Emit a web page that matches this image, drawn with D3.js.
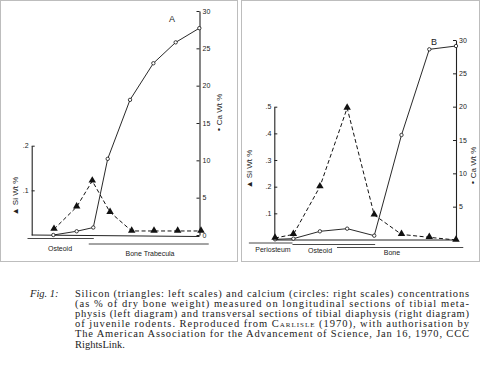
<!DOCTYPE html>
<html>
<head>
<meta charset="utf-8">
<script src="https://cdn.jsdelivr.net/npm/d3@7"></script>
<style>
  html, body { margin: 0; padding: 0; background: #fff; }
  svg { display: block; }
  .ax text { font-family: "Liberation Sans", Arial, sans-serif; font-size: 7px; fill: #222; }
  .ax path, .ax line { stroke: #222; }
</style>
</head>
<body>
<svg id="c" width="480" height="368"></svg>
<script>
// ---- Data ----
// Panel A: longitudinal sections of tibial metaphysis (position along section, 0-100 between axes)
const posA_ca = [12.9, 26.8, 36.7, 45.3, 58.6, 72.5, 85.8, 99.9];
const caA     = [0, 0.5, 1.0, 10.2, 18.1, 23.0, 25.8, 27.7];
const posA_si = [13.3, 26.8, 36.1, 46.7, 59.6, 72.9, 87.0, 100.9];
const siA     = [0.013, 0.063, 0.121, 0.051, 0.009, 0.009, 0.009, 0.009];
// Panel B: transversal sections of tibial diaphysis
const posB_ca = [0.4, 10.5, 25.1, 40.1, 55.0, 70.0, 85.3, 100];
const caB     = [0.1, 0.2, 1.3, 1.7, 0.65, 15.75, 28.6, 29.1];
const posB_si = [0.4, 10.5, 25.1, 40.1, 55.0, 70.0, 85.3, 100];
const siB     = [0.0075, 0.021, 0.2, 0.495, 0.094, 0.021, 0.01, 0.0];
// Tick values / labels
const siTicksA = [0.1, 0.2];
const siLabelsA = [".1", ".2"];
const caTicksA = [0, 5, 10, 15, 20, 25, 30];
const siTicksB = [0.1, 0.2, 0.3, 0.4, 0.5];
const siLabelsB = [".1", ".2", ".3", ".4", ".5"];
const caTicksB = [5, 10, 15, 20, 25, 30];
// Region labels
const regionsA = [{name: "Osteoid", from: -2.5, to: 37}, {name: "Bone Trabecula", from: 34, to: 105.5}];
const regionsB = [{name: "Periosteum", from: -14, to: 10}, {name: "Osteoid", from: 10, to: 55.5}, {name: "Bone", from: 34.5, to: 104}];
const captionLines = [
  "Silicon (triangles: left scales) and calcium (circles: right scales) concentrations",
  "(as % of dry bone weight) measured on longitudinal sections of tibial meta-",
  "physis (left diagram) and transversal sections of tibial diaphysis (right diagram)",
  "of juvenile rodents. Reproduced from |CARLISLE| (1970), with authorisation by",
  "The American Association for the Advancement of Science, Jan 16, 1970, CCC",
  "RightsLink."
];

const svg = d3.select("#c");
const sans = '"Liberation Sans", Arial, sans-serif';

// Panel frames
svg.append("rect").attr("x", 0.5).attr("y", 0.5).attr("width", 237).attr("height", 261)
  .attr("fill", "none").attr("stroke", "#bdbdbd").attr("stroke-width", 1);
svg.append("rect").attr("x", 241.5).attr("y", 0.5).attr("width", 238).attr("height", 261)
  .attr("fill", "none").attr("stroke", "#bdbdbd").attr("stroke-width", 1);

function panel(cfg) {
  const g = svg.append("g");
  const x = d3.scaleLinear().domain([0, 100]).range(cfg.xRange);
  const yCa = d3.scaleLinear().domain([0, 30]).range([cfg.y0, cfg.caTop]);
  const ySi = d3.scaleLinear().domain([0, cfg.siMax]).range([cfg.y0, cfg.siTop]);

  // Left (Si) axis
  const axL = d3.axisLeft(ySi).tickValues(cfg.siTicks)
    .tickFormat((d, i) => cfg.siLabels[i]).tickSizeInner(-3).tickSizeOuter(0).tickPadding(3);
  g.append("g").attr("class", "ax").attr("transform", `translate(${cfg.xRange[0]},0)`).call(axL)
    .call(s => s.select(".domain").attr("stroke-width", 1.1));
  // Right (Ca) axis
  const axR = d3.axisRight(yCa).tickValues(cfg.caTicks)
    .tickSizeInner(-3).tickSizeOuter(0).tickPadding(3);
  g.append("g").attr("class", "ax").attr("transform", `translate(${cfg.xRange[1]},0)`).call(axR)
    .call(s => s.select(".domain").attr("stroke-width", 1.1));
  // Baseline
  g.append("line").attr("x1", x(0)).attr("x2", x(100)).attr("y1", cfg.y0).attr("y2", cfg.y0 + cfg.baseSlope)
    .attr("stroke", "#222").attr("stroke-width", 1);

  // Ca line (solid, open circles), Si line (dashed, filled triangles)
  const caPts = cfg.caPos.map((p, i) => [x(p), yCa(cfg.ca[i])]);
  const siPts = cfg.siPos.map((p, i) => [x(p), ySi(cfg.si[i])]);
  g.append("path").attr("d", d3.line()(siPts)).attr("fill", "none").attr("stroke", "#111")
    .attr("stroke-width", 1).attr("stroke-dasharray", "4,2.5");
  g.append("path").attr("d", d3.line()(caPts)).attr("fill", "none").attr("stroke", "#111").attr("stroke-width", 0.9);
  g.selectAll(".ca").data(caPts).join("circle").attr("cx", d => d[0]).attr("cy", d => d[1]).attr("r", 1.7)
    .attr("fill", "#fff").attr("stroke", "#111").attr("stroke-width", 0.8);
  const tri = d3.symbol().type(d3.symbolTriangle).size(24);
  g.selectAll(".si").data(siPts).join("path").attr("d", tri)
    .attr("transform", d => `translate(${d[0]},${d[1] - 0.5})`).attr("fill", "#111");

  // Axis titles
  g.append("text").attr("transform", `translate(${cfg.siTitle[0]},${cfg.siTitle[1]}) rotate(-90)`)
    .attr("text-anchor", "middle").attr("dominant-baseline", "middle")
    .attr("font-family", sans).attr("font-size", 8).attr("fill", "#222").text("▲ Si Wt %");
  g.append("text").attr("transform", `translate(${cfg.caTitle[0]},${cfg.caTitle[1]}) rotate(-90)`)
    .attr("text-anchor", "middle").attr("dominant-baseline", "middle")
    .attr("font-family", sans).attr("font-size", 8).attr("fill", "#222").text("∘ Ca Wt %");
  // Panel letter
  g.append("text").attr("x", cfg.letter[0]).attr("y", cfg.letter[1]).attr("font-family", sans)
    .attr("font-size", 9).attr("fill", "#222").text(cfg.letterText);

  // Region brackets
  cfg.regions.forEach((r, i) => {
    const ly = cfg.regionY[i];
    g.append("line").attr("x1", x(r.from)).attr("x2", x(r.to)).attr("y1", ly).attr("y2", ly)
      .attr("stroke", "#333").attr("stroke-width", 0.9);
    g.append("text").attr("x", cfg.regionLabelX[i]).attr("y", cfg.regionLabelY[i]).attr("text-anchor", "middle")
      .attr("font-family", sans).attr("font-size", 7).attr("fill", "#222").text(r.name);
  });
}

panel({
  xRange: [31.7, 199.5], y0: 235, caTop: 11, siTop: 145.7, siMax: 0.2, baseSlope: 1.5,
  caPos: posA_ca, ca: caA, siPos: posA_si, si: siA,
  siTicks: siTicksA, siLabels: siLabelsA, caTicks: caTicksA,
  siTitle: [15.5, 196], caTitle: [220, 113], letter: [169, 22], letterText: "A",
  regions: regionsA, regionY: [238.5, 244], regionLabelX: [60, 150], regionLabelY: [250.5, 255.5]
});

panel({
  xRange: [274.3, 456], y0: 240, caTop: 40, siTop: 106.7, siMax: 0.5, baseSlope: 0,
  caPos: posB_ca, ca: caB, siPos: posB_si, si: siB,
  siTicks: siTicksB, siLabels: siLabelsB, caTicks: caTicksB,
  siTitle: [249.5, 169], caTitle: [473.5, 166], letter: [431, 45], letterText: "B",
  regions: regionsB, regionY: [243, 244.5, 247.5], regionLabelX: [273, 320, 392], regionLabelY: [252, 253, 255]
});

// Caption
const serif = '"Liberation Serif", "Times New Roman", serif';
svg.append("text").attr("x", 30).attr("y", 297).attr("font-family", serif).attr("font-size", 10.5)
  .attr("font-style", "italic").attr("fill", "#222").text("Fig. 1:");
captionLines.forEach((line, i) => {
  const t = svg.append("text").attr("x", 75).attr("y", 297 + i * 10.1)
    .attr("font-family", serif).attr("font-size", 10.5).attr("fill", "#222");
  line.split("|").forEach((part, j) => {
    const ts = t.append("tspan").text(part);
    if (j % 2 === 1) ts.style("font-variant", "small-caps").text(part.charAt(0) + part.slice(1).toLowerCase());
  });
  if (i < captionLines.length - 1) {
    const w = t.node().getComputedTextLength();
    t.attr("textLength", 394).attr("lengthAdjust", w > 394 ? "spacingAndGlyphs" : "spacing");
  }
});
</script>
</body>
</html>
